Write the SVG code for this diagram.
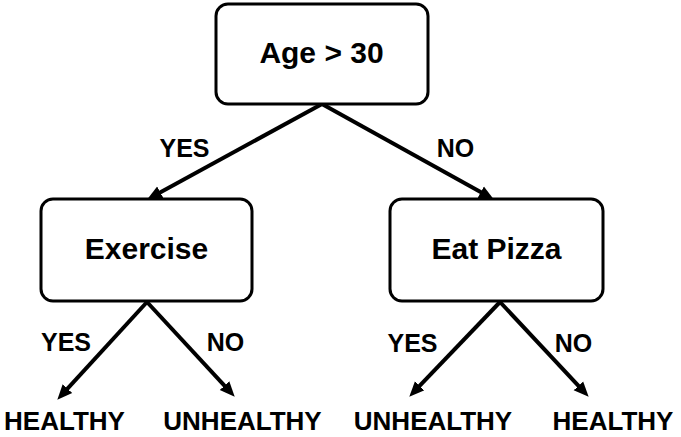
<svg xmlns="http://www.w3.org/2000/svg" width="681" height="437" viewBox="0 0 681 437">
<style>
.box{fill:#fff;stroke:#000;stroke-width:3}
.t{font-family:"Liberation Sans",Arial,sans-serif;font-weight:bold;text-anchor:middle;fill:#000}
.n{font-size:30px}
.l{font-size:25px}
.o{font-size:26px}
.c{stroke:#000;stroke-width:4;fill:none;marker-end:url(#ah)}
</style>
<defs>
<marker id="ah" markerUnits="userSpaceOnUse" markerWidth="15" markerHeight="14" refX="6" refY="7" orient="auto">
<path d="M0,0.5 L15,7 L0,13.5 z" fill="#000"/>
</marker>
</defs>
<rect width="681" height="437" fill="#fff"/>
<g id="connectors">
<line class="c" x1="322" y1="104" x2="155" y2="195.2"/>
<line class="c" x1="322" y1="104" x2="486" y2="195.1"/>
<line class="c" x1="147" y1="302" x2="63.4" y2="393.1"/>
<line class="c" x1="147" y1="302" x2="228.6" y2="390.1"/>
<line class="c" x1="500" y1="302" x2="415.5" y2="390.2"/>
<line class="c" x1="500" y1="302" x2="582.5" y2="390.2"/>
<text class="t l" x="184.5" y="157">YES</text>
<text class="t l" x="455.5" y="157">NO</text>
<text class="t l" x="66" y="351">YES</text>
<text class="t l" x="225.5" y="351">NO</text>
<text class="t l" x="412.5" y="352">YES</text>
<text class="t l" x="573.5" y="352">NO</text>
</g>
<g id="age">
<rect class="box" x="216" y="4" width="212" height="100" rx="12"/>
<text class="t n" x="321.5" y="63">Age &gt; 30</text>
</g>
<g id="exercise">
<rect class="box" x="41" y="199" width="211" height="102" rx="12"/>
<text class="t n" x="146.5" y="259">Exercise</text>
</g>
<g id="pizza">
<rect class="box" x="390" y="199" width="213" height="102" rx="12"/>
<text class="t n" x="496.5" y="259">Eat Pizza</text>
</g>
<g id="leaf1"><text class="t o" x="64.5" y="430">HEALTHY</text></g>
<g id="leaf2"><text class="t o" x="242.5" y="430">UNHEALTHY</text></g>
<g id="leaf3"><text class="t o" x="433" y="430">UNHEALTHY</text></g>
<g id="leaf4"><text class="t o" x="613" y="430">HEALTHY</text></g>
</svg>
